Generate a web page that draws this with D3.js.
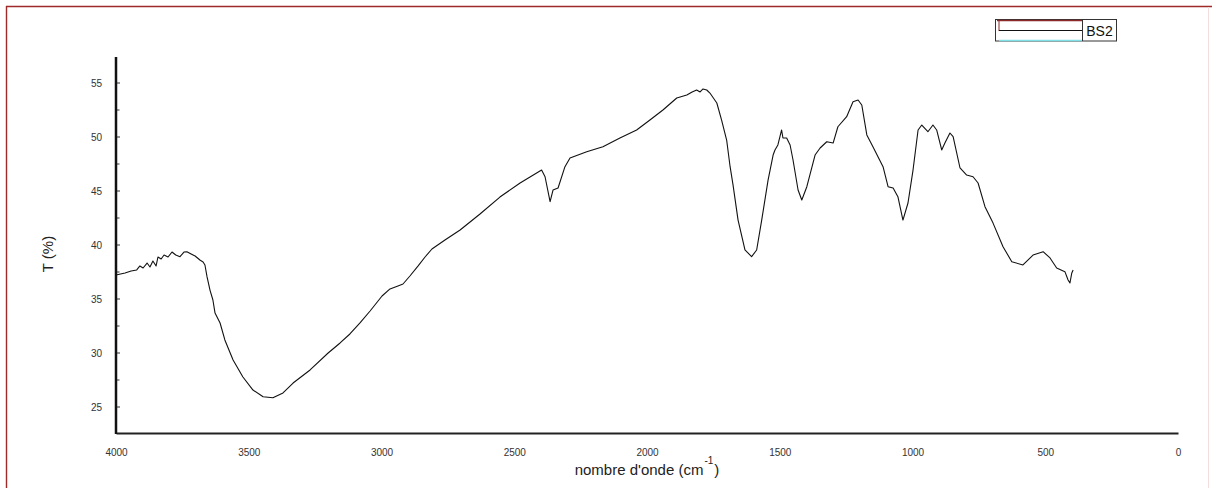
<!DOCTYPE html>
<html><head><meta charset="utf-8">
<script src="https://cdn.jsdelivr.net/npm/d3@7"></script>
<style>body{margin:0;background:#fff}svg{display:block;font-family:Arial,"Liberation Sans",sans-serif}</style>
</head><body><svg id="c" width="1212" height="488"></svg>
<script>
const wavenumber = [4000,3966,3943,3922,3910,3898,3883,3872,3861,3849,3842,3830,3819,3804,3789,3775,3759,3744,3733,3717,3702,3684,3672,3665,3657,3646,3635,3627,3608,3590,3559,3522,3484,3446,3409,3371,3333,3269,3201,3156,3119,3081,3043,2998,2968,2938,2919,2893,2862,2836,2810,2761,2704,2629,2554,2478,2397,2384,2365,2354,2335,2309,2290,2227,2166,2102,2039,1989,1940,1888,1850,1830,1813,1800,1789,1775,1763,1737,1719,1700,1687,1676,1657,1631,1606,1587,1568,1544,1525,1518,1507,1493,1488,1474,1461,1450,1431,1417,1398,1367,1348,1323,1299,1281,1248,1224,1205,1191,1172,1149,1111,1092,1073,1055,1036,1017,998,979,965,942,923,909,890,878,859,847,821,796,772,753,727,697,659,626,584,546,508,482,457,426,414,407,400,395];
const transmittance = [37.22,37.41,37.59,37.69,38.06,37.87,38.33,37.96,38.52,38.06,38.89,38.70,39.07,38.89,39.35,39.07,38.92,39.35,39.38,39.17,38.98,38.61,38.43,38.15,37.04,35.83,34.91,33.70,32.78,31.21,29.35,27.78,26.57,25.95,25.86,26.30,27.22,28.43,30.00,30.93,31.76,32.78,33.89,35.28,35.93,36.21,36.39,37.13,38.06,38.89,39.63,40.46,41.39,42.87,44.44,45.74,46.94,46.32,44.01,45.09,45.28,47.25,48.06,48.64,49.10,49.91,50.65,51.57,52.50,53.61,53.89,54.17,54.35,54.17,54.45,54.35,54.07,53.15,51.57,49.72,47.25,45.56,42.31,39.54,38.92,39.54,42.31,46.00,48.33,48.80,49.26,50.65,49.91,49.91,49.26,47.87,45.09,44.17,45.40,48.33,48.98,49.56,49.44,50.95,51.88,53.27,53.43,52.96,50.19,49.10,47.25,45.40,45.28,44.47,42.31,43.89,46.94,50.65,51.11,50.49,51.11,50.65,48.80,49.44,50.37,50.03,47.13,46.48,46.32,45.74,43.55,42.05,39.84,38.45,38.15,39.07,39.38,38.80,37.87,37.53,36.76,36.48,37.41,37.69];
const xTicks = [4000,3500,3000,2500,2000,1500,1000,500,0];
const yTicks = [25,30,35,40,45,50,55];
const yMinorTicks = [27.5,32.5,37.5,42.5,47.5,52.5];
const seriesName = "BS2";
const xLabel = "nombre d'onde (cm";
const yLabel = "T (%)";

const svg = d3.select("#c");
const x = d3.scaleLinear().domain([4000,0]).range([116,1178]);
const y = d3.scaleLinear().domain([25,55]).range([407,83]);
const yTop = 57, yBot = 433;

// border
svg.append("line").attr("x1",6).attr("x2",1212).attr("y1",6.5).attr("y2",6.5).attr("stroke","#9e2a2a").attr("stroke-width",1.4);
svg.append("line").attr("x1",6.5).attr("x2",6.5).attr("y1",6).attr("y2",488).attr("stroke","#9e2a2a").attr("stroke-width",1.4);
svg.append("line").attr("x1",1208.5).attr("x2",1208.5).attr("y1",7).attr("y2",488).attr("stroke","#f3dede").attr("stroke-width",1);

// x axis
const xa = svg.append("g").attr("transform",`translate(0,${yBot})`)
  .call(d3.axisBottom(x).tickValues(xTicks).tickSize(0).tickPadding(16).tickFormat(d3.format("d")));
xa.select(".domain").attr("stroke","#222").attr("stroke-width",2);
xa.selectAll("text").attr("font-size",10).attr("fill","#333").attr("font-family","Arial, Liberation Sans, sans-serif");

// y axis
const ya = svg.append("g").attr("transform","translate(116,0)")
  .call(d3.axisLeft(y).tickValues(yTicks).tickSize(0).tickPadding(14).tickFormat(d3.format("d")));
ya.select(".domain").remove();
ya.selectAll("text").attr("font-size",10).attr("fill","#333").attr("font-family","Arial, Liberation Sans, sans-serif");
svg.append("line").attr("x1",116).attr("x2",116).attr("y1",yTop).attr("y2",yBot+1)
  .attr("stroke","#111").attr("stroke-width",2.5);
svg.append("g").selectAll("line").data(yTicks.concat(yMinorTicks)).join("line")
  .attr("x1",117).attr("x2",d=>yTicks.includes(d)?120:119.5)
  .attr("y1",d=>y(d)).attr("y2",d=>y(d)).attr("stroke","#333").attr("stroke-width",1);

// labels
const xl = svg.append("text").attr("x",647).attr("y",475).attr("text-anchor","middle")
  .attr("font-size",15).attr("fill","#222");
xl.append("tspan").text(xLabel);
xl.append("tspan").attr("font-size",10).attr("dy",-11).attr("dx",1).text("-1");
xl.append("tspan").attr("dy",11).attr("dx",1).text(")");
svg.append("text").attr("transform","translate(53,254) rotate(-90)").attr("text-anchor","middle")
  .attr("font-size",15).attr("fill","#222").text(yLabel);

// curve
const pts = wavenumber.map((w,i)=>[w,transmittance[i]]);
svg.append("path").datum(pts).attr("fill","none").attr("stroke","#111").attr("stroke-width",1.1)
  .attr("stroke-linejoin","round")
  .attr("d",d3.line().x(d=>x(d[0])).y(d=>y(d[1])));

// legend
const lg = svg.append("g");
lg.append("rect").attr("x",995.5).attr("y",19.5).attr("width",121).attr("height",21.5)
  .attr("fill","#fff").attr("stroke","#333").attr("stroke-width",1);
lg.append("line").attr("x1",997).attr("x2",1082).attr("y1",20.5).attr("y2",20.5).attr("stroke","#8b2a2a").attr("stroke-width",1.5);
lg.append("line").attr("x1",999).attr("x2",999).attr("y1",20).attr("y2",31).attr("stroke","#8b2a2a").attr("stroke-width",1);
lg.append("line").attr("x1",999).attr("x2",1082).attr("y1",30.5).attr("y2",30.5).attr("stroke","#111").attr("stroke-width",1.2);
lg.append("line").attr("x1",999).attr("x2",1082).attr("y1",40.5).attr("y2",40.5).attr("stroke","#7fe0e8").attr("stroke-width",1.5);
lg.append("line").attr("x1",1082.5).attr("x2",1082.5).attr("y1",19.5).attr("y2",41).attr("stroke","#333").attr("stroke-width",1);
lg.append("text").attr("x",1099.5).attr("y",36).attr("text-anchor","middle").attr("font-size",14).attr("fill","#111").text(seriesName);
</script></body></html>
